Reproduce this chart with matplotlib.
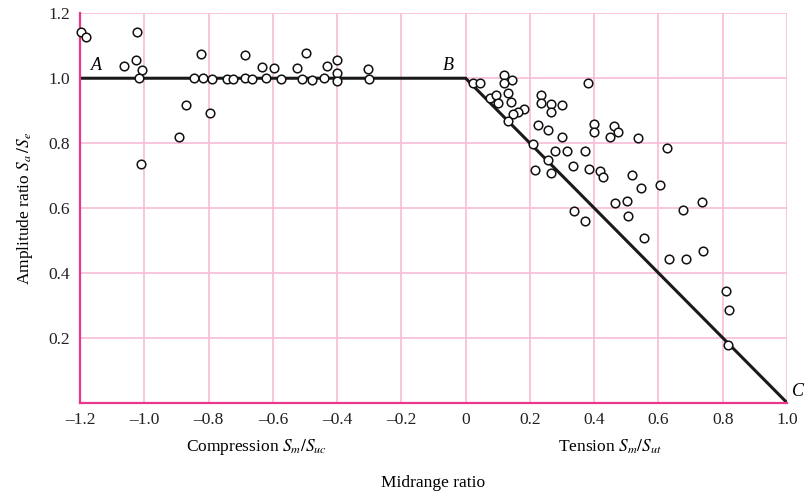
import matplotlib
matplotlib.use("Agg")
import matplotlib.pyplot as plt

plt.rcParams["font.family"] = ["Liberation Serif", "DejaVu Serif"]
plt.rcParams["mathtext.fontset"] = "stix"

# failure criterion A-B-C
line_x = [-1.2, 0.0, 1.0]
line_y = [1.0, 1.0, 0.0]

# test points, compression side
comp_x = [-1.198, -1.181, -1.024, -1.062, -1.027, -1.006, -1.016, -1.011, -0.891, -0.871,
          -0.844, -0.823, -0.818, -0.795, -0.790, -0.743, -0.723, -0.686, -0.685, -0.665,
          -0.634, -0.622, -0.596, -0.573, -0.526, -0.510, -0.498, -0.478, -0.440, -0.432,
          -0.401, -0.401, -0.400, -0.303, -0.302]
comp_y = [1.143, 1.128, 1.144, 1.037, 1.057, 1.026, 1.000, 0.735, 0.819, 0.916,
          1.002, 1.075, 1.002, 0.892, 0.999, 0.999, 0.998, 1.001, 1.072, 0.999,
          1.034, 1.001, 1.032, 0.999, 1.031, 0.999, 1.079, 0.995, 1.000, 1.038,
          1.055, 1.015, 0.993, 1.027, 0.998]

# test points, tension side
tens_x = [0.024, 0.044, 0.120, 0.145, 0.120, 0.076, 0.096, 0.100, 0.133, 0.141,
          0.182, 0.164, 0.148, 0.133, 0.236, 0.236, 0.265, 0.265, 0.299, 0.381,
          0.224, 0.256, 0.300, 0.209, 0.277, 0.315, 0.371, 0.256, 0.216, 0.266,
          0.334, 0.383, 0.401, 0.401, 0.461, 0.474, 0.449, 0.536, 0.419, 0.427,
          0.517, 0.545, 0.606, 0.628, 0.337, 0.373, 0.466, 0.503, 0.506, 0.555,
          0.675, 0.734, 0.632, 0.686, 0.739, 0.809, 0.821, 0.815]
tens_y = [0.986, 0.986, 1.011, 0.994, 0.986, 0.940, 0.947, 0.924, 0.955, 0.927,
          0.906, 0.895, 0.891, 0.867, 0.947, 0.924, 0.922, 0.896, 0.919, 0.984,
          0.857, 0.841, 0.818, 0.797, 0.775, 0.776, 0.776, 0.748, 0.716, 0.708,
          0.730, 0.719, 0.858, 0.834, 0.853, 0.834, 0.818, 0.815, 0.713, 0.696,
          0.703, 0.663, 0.670, 0.786, 0.590, 0.561, 0.615, 0.622, 0.576, 0.508,
          0.595, 0.618, 0.443, 0.443, 0.467, 0.345, 0.285, 0.177]

x_ticks = [-1.2, -1.0, -0.8, -0.6, -0.4, -0.2, 0.0, 0.2, 0.4, 0.6, 0.8, 1.0]
x_labels = ["\u20131.2", "\u20131.0", "\u20130.8", "\u20130.6", "\u20130.4", "\u20130.2",
            "0", "0.2", "0.4", "0.6", "0.8", "1.0"]
y_ticks = [0.2, 0.4, 0.6, 0.8, 1.0, 1.2]
y_labels = ["0.2", "0.4", "0.6", "0.8", "1.0", "1.2"]

grid_pink = "#f7bcd8"
axis_pink = "#e8388e"

fig = plt.figure(figsize=(8.07, 4.94), dpi=100)
ax = fig.add_axes([0.0991, 0.1848, 0.8761, 0.7882])

for xv in x_ticks:
    ax.axvline(xv, color=grid_pink, lw=1.2, zorder=0)
for yv in y_ticks:
    ax.axhline(yv, color=grid_pink, lw=1.2, zorder=0)

ax.plot(line_x, line_y, color="#1a1a1a", lw=2.2, zorder=2, solid_capstyle="butt")
ax.plot(comp_x, comp_y, "o", ms=6.2, mfc="white", mec="#111111", mew=1.1,
        zorder=3, clip_on=False)
ax.plot(tens_x, tens_y, "o", ms=6.2, mfc="white", mec="#111111", mew=1.1,
        zorder=3, clip_on=False)

ax.set_xlim(-1.2, 1.0)
ax.set_ylim(0, 1.2)
ax.set_xticks(x_ticks)
ax.set_xticklabels(x_labels)
ax.set_yticks(y_ticks)
ax.set_yticklabels(y_labels)
ax.tick_params(length=0, labelsize=12.5, colors="#222222", pad=7)

for s in ["top", "right"]:
    ax.spines[s].set_visible(False)
for s in ["left", "bottom"]:
    ax.spines[s].set_color(axis_pink)
    ax.spines[s].set_linewidth(1.6)

ax.set_ylabel("Amplitude ratio $S_a\\,/S_e$", fontsize=12.5, labelpad=10)

ax.text(-1.165, 1.025, "A", fontsize=13, style="italic")
ax.text(-0.07, 1.025, "B", fontsize=13, style="italic")
ax.text(1.015, 0.02, "C", fontsize=13, style="italic", clip_on=False)

fig.text(0.318, 0.096, "Compression $S_m/S_{uc}$", fontsize=12.5, ha="center", va="center")
fig.text(0.756, 0.096, "Tension $S_m/S_{ut}$", fontsize=12.5, ha="center", va="center")
fig.text(0.537, 0.022, "Midrange ratio", fontsize=12.5, ha="center", va="center")

fig.savefig("out.png", dpi=100)
